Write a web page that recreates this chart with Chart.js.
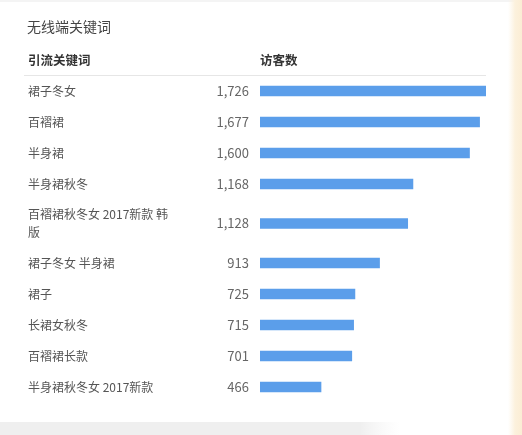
<!DOCTYPE html>
<html>
<head>
<meta charset="utf-8">
<script src="https://cdn.jsdelivr.net/npm/chart.js@4.4.0/dist/chart.umd.min.js"></script>
<style>
  html, body { margin: 0; padding: 0; background: #ffffff; }
  #wrap { position: relative; width: 522px; height: 435px; }
</style>
</head>
<body>
<div id="wrap"><canvas id="c" width="522" height="435"></canvas></div>
<script>
// ---- data ----
const title = '无线端关键词';
const columnHeaders = ['引流关键词', '访客数'];
const keywords = [
  '裙子冬女',
  '百褶裙',
  '半身裙',
  '半身裙秋冬',
  ['百褶裙秋冬女 2017新款 韩', '版'],
  '裙子冬女 半身裙',
  '裙子',
  '长裙女秋冬',
  '百褶裙长款',
  '半身裙秋冬女 2017新款'
];
const visitors = [1726, 1677, 1600, 1168, 1128, 913, 725, 715, 701, 466];

// ---- layout helpers (row heights follow label line count) ----
const FONT = "'Noto Sans CJK SC', 'Noto Sans', sans-serif";
const ROW_PAD = 14, LINE_H = 17;
const lineCount = k => Array.isArray(k) ? k.length : 1;
let acc = 0;
const centers = keywords.map(k => {
  const h = ROW_PAD + LINE_H * lineCount(k);
  const c = acc + h / 2;
  acc += h;
  return c;
});
const totalH = acc;
const setTicks = axis => { axis.ticks = centers.map(v => ({ value: v })); };
const fitAxis = w => a => {
  a.width = w;
  a.paddingTop = 0;
  a.paddingBottom = 0;
  a.paddingLeft = 0;
  a.paddingRight = 0;
};

const decor = {
  id: 'decor',
  beforeDraw(chart) {
    const ctx = chart.ctx;
    const W = chart.width, H = chart.height;
    ctx.save();
    ctx.fillStyle = '#ffffff';
    ctx.fillRect(0, 0, W, H);
    ctx.fillStyle = '#f4f4f4';
    ctx.fillRect(0, 0, W, 2);
    const gb = ctx.createLinearGradient(0, 0, 400, 0);
    gb.addColorStop(0, '#efefef');
    gb.addColorStop(0.9, '#efefef');
    gb.addColorStop(1, 'rgba(245,245,245,0)');
    ctx.fillStyle = gb;
    ctx.fillRect(0, 422, 400, H - 422);
    const g = ctx.createLinearGradient(508, 0, W, 0);
    g.addColorStop(0, 'rgba(252,243,226,0)');
    g.addColorStop(0.5, '#fcf1dd');
    g.addColorStop(1, '#fbedd4');
    ctx.fillStyle = g;
    ctx.fillRect(508, 0, W - 508, H);
    ctx.restore();
  },
  afterDraw(chart) {
    const ctx = chart.ctx;
    const area = chart.chartArea;
    ctx.save();
    ctx.textBaseline = 'middle';
    ctx.textAlign = 'left';
    ctx.fillStyle = '#444444';
    ctx.font = '14px ' + FONT;
    ctx.fillText(title, 27, 27);
    ctx.fillStyle = '#333333';
    ctx.font = 'bold 12.5px ' + FONT;
    ctx.fillText(columnHeaders[0], 28, 60);
    ctx.fillText(columnHeaders[1], area.left, 60);
    ctx.strokeStyle = '#e6e6e6';
    ctx.lineWidth = 1;
    ctx.beginPath();
    ctx.moveTo(24, Math.round(area.top) - 0.5);
    ctx.lineTo(area.right, Math.round(area.top) - 0.5);
    ctx.stroke();
    ctx.restore();
  }
};

new Chart(document.getElementById('c'), {
  type: 'bar',
  data: {
    datasets: [{
      data: visitors.map((v, i) => ({ x: v, y: centers[i] })),
      backgroundColor: '#5b9eea',
      borderWidth: 0,
      barThickness: 10,
      yAxisID: 'y'
    }]
  },
  options: {
    indexAxis: 'y',
    responsive: false,
    animation: false,
    events: [],
    layout: { padding: { top: 75.5, bottom: 32.5, left: 28, right: 36 } },
    plugins: { legend: { display: false }, tooltip: { enabled: false } },
    scales: {
      x: {
        type: 'linear',
        display: false,
        min: 0,
        max: Math.max(...visitors)
      },
      y: {
        type: 'linear',
        position: 'left',
        weight: 0,
        offset: false,
        min: 0,
        max: totalH,
        reverse: true,
        afterBuildTicks: setTicks,
        afterFit: fitAxis(62),
        border: { display: false },
        grid: { display: false, drawTicks: false, offset: false },
        ticks: {
          autoSkip: false,
          crossAlign: 'near',
          padding: 11,
          color: '#666666',
          font: { family: FONT, size: 13 },
          callback: (v, i) => visitors[i].toLocaleString('en-US')
        }
      },
      yk: {
        type: 'linear',
        position: 'left',
        weight: 1,
        offset: false,
        min: 0,
        max: totalH,
        reverse: true,
        afterBuildTicks: setTicks,
        afterFit: fitAxis(170),
        border: { display: false },
        grid: { display: false, drawTicks: false, offset: false },
        ticks: {
          autoSkip: false,
          crossAlign: 'far',
          padding: 0,
          color: '#555555',
          font: { family: FONT, size: 12, lineHeight: 1.5 },
          callback: (v, i) => keywords[i]
        }
      }
    }
  },
  plugins: [decor]
});
</script>
</body>
</html>
